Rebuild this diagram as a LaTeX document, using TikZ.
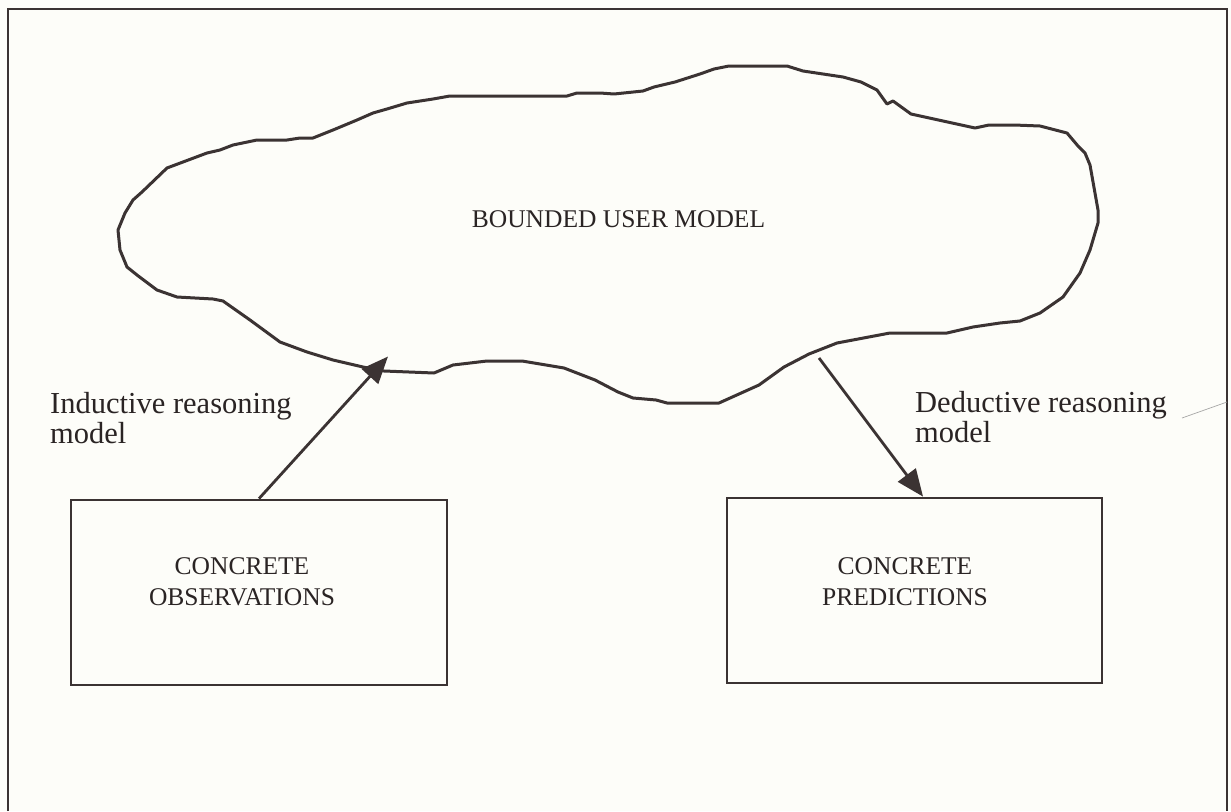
\documentclass[tikz,border=0pt]{standalone}
\usepackage{fontspec}
\setmainfont{Liberation Serif}
\usetikzlibrary{arrows.meta}
\definecolor{ink}{HTML}{3B3333}
\definecolor{paper}{HTML}{FDFDF9}
\definecolor{txt}{HTML}{2A2424}
\begin{document}
\begin{tikzpicture}[x=1pt,y=-1pt,
  outline/.style={draw=ink, line width=3pt, line join=round, line cap=round},
  frame/.style={draw=ink, line width=2.6pt},
  databox/.style={draw=ink, line width=2.8pt, rectangle, inner sep=0pt, minimum height=185pt},
  caps/.style={font=\fontsize{25.5}{31}\selectfont, text=txt, align=center, inner sep=0pt, anchor=north},
  reason/.style={font=\fontsize{30.5}{30}\selectfont, text=txt, align=left, inner sep=0pt, anchor=north west},
  flow/.style={draw=ink, line width=2.8pt, -{Triangle[length=27pt,width=22pt]}}]

\useasboundingbox (0,0) rectangle (1231,811);
\fill[paper] (0,0) rectangle (1231,811);
% page frame, open at the bottom
\draw[frame] (8,811) -- (8,9) -- (1227,9) -- (1227,811);

% hand-drawn outline of the user model
\draw[outline] (118,230) -- (125,213) -- (133,200) -- (142,192) -- (167,168) -- (207,153)
  -- (220,150) -- (233,145) -- (257,140) -- (287,140) -- (300,138) -- (313,138)
  -- (333,130) -- (357,120) -- (373,113) -- (387,109) -- (407,103) -- (433,99)
  -- (450,96) -- (567,96) -- (577,93) -- (600,93) -- (614,94) -- (643,91) -- (654,87)
  -- (675,82) -- (700,74) -- (714,69) -- (729,66) -- (787,66) -- (803,71) -- (843,77)
  -- (861,82) -- (877,90) -- (887,104) -- (893,101) -- (911,114) -- (975,128)
  -- (989,125) -- (1014,125) -- (1040,126) -- (1067,133) -- (1078,146) -- (1085,153)
  -- (1090,165) -- (1098,210) -- (1098,223) -- (1090,250) -- (1080,273) -- (1063,297)
  -- (1040,313) -- (1020,321) -- (1000,323) -- (973,327) -- (947,333) -- (890,333)
  -- (837,343) -- (809,354) -- (784,367) -- (759,385) -- (719,403) -- (667,403)
  -- (656,400) -- (633,398) -- (618,392) -- (595,380) -- (564,368) -- (522,361)
  -- (487,361) -- (453,365) -- (434,373) -- (384,371) -- (363,367) -- (333,360)
  -- (307,352) -- (280,342) -- (250,320) -- (223,301) -- (213,299) -- (177,297)
  -- (157,290) -- (137,275) -- (127,267) -- (120,250) -- cycle;

\node[font=\fontsize{25.5}{31}\selectfont, text=txt, anchor=base, inner sep=0pt]
  (modeltext) at (618.5,227) {BOUNDED USER MODEL};

% the two boxes and their captions
\node[databox, minimum width=376pt] (obs) at (259,592.5) {};
\node[databox, minimum width=375pt] (pred) at (914.5,590.5) {};
\node[caps] (obstext) at (242,557.5) {CONCRETE\\OBSERVATIONS};
\node[caps] (predtext) at (905,557) {CONCRETE\\PREDICTIONS};

% reasoning labels
\node[reason] (indtext) at (50,392.5) {Inductive reasoning\\model};
\node[reason] (dedtext) at (915,391.5) {Deductive reasoning\\model};

% arrows between the model and the boxes
\coordinate (indin) at (388,356.5);
\coordinate (dedout) at (819,358);
\draw[flow] (obs.north) -- (indin);
\draw[flow] (dedout) -- ([xshift=8.5pt]pred.north);

% stray pencil stroke near the right edge
\draw[draw=gray!70, line width=0.7pt] (1182,418) -- (1227,402);
\end{tikzpicture}
\end{document}
